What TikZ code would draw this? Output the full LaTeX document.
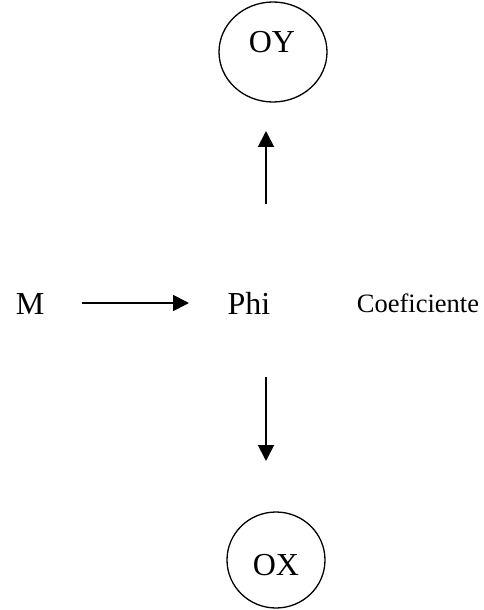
\documentclass[tikz,border=0pt]{standalone}
\usepackage{fontspec}
\setmainfont{Liberation Serif}
\usetikzlibrary{arrows.meta,shapes.geometric}
\begin{document}
\begin{tikzpicture}[x=1bp,y=-1bp,
  big/.style={inner sep=0pt,anchor=base,font=\fontsize{32bp}{36bp}\selectfont},
  small/.style={inner sep=0pt,anchor=base,font=\fontsize{26.5bp}{30bp}\selectfont},
  oval/.style={draw,line width=1.3bp},
  arr/.style={line width=1.8bp,-{Triangle[length=16bp,width=16bp]}}]
\useasboundingbox (0,0) rectangle (484,610);
\draw[oval] (273,52) ellipse [x radius=54, y radius=50];
\draw[oval] (276,560) ellipse [x radius=49, y radius=48];
\node[big] (oy) at (272,53) {OY};
\node[big] (ox) at (276,575) {OX};
\node[big] (m) at (30,314) {M};
\node[big] (phi) at (249,314) {Phi};
\node[small] (coef) at (418,312) {Coeficiente};
\coordinate (h1) at (82,303);
\coordinate (h2) at (189,303);
\coordinate (u1) at (266,204);
\coordinate (u2) at (266,131);
\coordinate (d1) at (266,377);
\coordinate (d2) at (266,461);
\draw[arr] (h1) -- (h2);
\draw[arr] (u1) -- (u2);
\draw[arr] (d1) -- (d2);
\end{tikzpicture}
\end{document}
